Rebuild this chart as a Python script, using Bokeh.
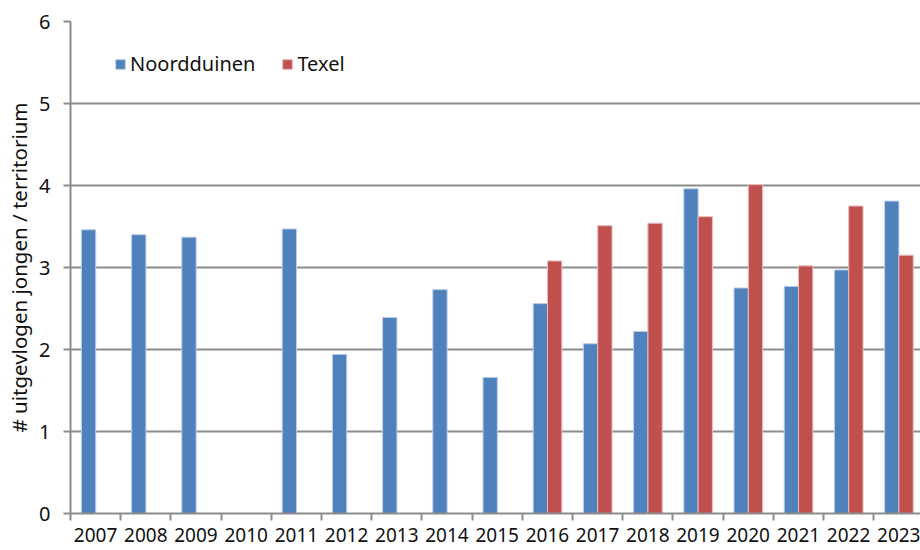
from bokeh.plotting import figure
from bokeh.models import FixedTicker, Legend, LegendItem, ColumnDataSource, Range1d
from bokeh.embed import file_html
from bokeh.resources import INLINE

years = ["2007", "2008", "2009", "2010", "2011", "2012", "2013", "2014", "2015",
         "2016", "2017", "2018", "2019", "2020", "2021", "2022", "2023"]
noordduinen = [3.46, 3.40, 3.37, None, 3.47, 1.94, 2.39, 2.73, 1.66,
               2.56, 2.07, 2.22, 3.96, 2.75, 2.77, 2.97, 3.81]
texel = [None, None, None, None, None, None, None, None, None,
         3.08, 3.51, 3.54, 3.62, 4.01, 3.02, 3.75, 3.15]
y_ticks = [0, 1, 2, 3, 4, 5, 6]
y_label = "# uitgevlogen jongen / territorium"

BLUE = "#4F81BD"
RED = "#C0504D"
GRID = "#8c8c8c"
FONT = "Noto Sans"

centers = [i + 0.5 for i in range(len(years))]
bounds = list(range(len(years) + 1))

def series(vals, offset):
    xs, tops = [], []
    for c, v in zip(centers, vals):
        if v is not None:
            xs.append(c + offset)
            tops.append(v)
    return ColumnDataSource(dict(x=xs, top=tops))

TOP, LEFT = 21, 70
FW, FH = 850, 492
p = figure(frame_width=FW, frame_height=FH, output_backend="svg",
           toolbar_location=None, x_range=Range1d(0, FW / 50.2), y_range=Range1d(0, 6),
           min_border_left=LEFT, min_border_right=0, min_border_top=TOP,
           min_border_bottom=36, background_fill_color="white",
           border_fill_color="white", outline_line_color=None)

w = 0.285
r1 = p.vbar(x="x", top="top", width=w, bottom=0, source=series(noordduinen, -0.14),
            fill_color=BLUE, line_color="#bccde6", line_width=1)
r2 = p.vbar(x="x", top="top", width=w, bottom=0, source=series(texel, 0.145),
            fill_color=RED, line_color="#e8bcbb", line_width=1)

# y axis
p.yaxis.ticker = FixedTicker(ticks=y_ticks)
p.yaxis.axis_line_color = GRID
p.yaxis.axis_line_width = 2
p.yaxis.major_tick_line_color = GRID
p.yaxis.major_tick_line_width = 2
p.yaxis.major_tick_out = 7
p.yaxis.major_tick_in = 0
p.yaxis.minor_tick_line_color = None
p.yaxis.major_label_standoff = 13
p.yaxis.major_label_text_font = FONT
p.yaxis.major_label_text_font_size = "20px"
p.yaxis.major_label_text_color = "#111111"
p.yaxis.axis_label = y_label
p.yaxis.axis_label_text_font = FONT
p.yaxis.axis_label_text_font_size = "20.5px"
p.yaxis.axis_label_text_font_style = "normal"
p.yaxis.axis_label_text_color = "#111111"
p.yaxis.axis_label_standoff = 3

# x axis
p.xaxis.ticker = FixedTicker(ticks=centers, minor_ticks=bounds)
p.xaxis.major_label_overrides = {c: y for c, y in zip(centers, years)}
p.xaxis.axis_line_color = GRID
p.xaxis.axis_line_width = 2
p.xaxis.major_tick_line_color = None
p.xaxis.major_tick_out = 0
p.xaxis.major_tick_in = 0
p.xaxis.minor_tick_line_color = GRID
p.xaxis.minor_tick_line_width = 2
p.xaxis.minor_tick_out = 7
p.xaxis.minor_tick_in = 0
p.xaxis.major_label_standoff = 7
p.xaxis.major_label_text_font = FONT
p.xaxis.major_label_text_font_size = "19px"
p.xaxis.major_label_text_color = "#111111"

p.xgrid.grid_line_color = None
p.ygrid.ticker = FixedTicker(ticks=y_ticks[1:])
p.ygrid.grid_line_color = GRID
p.ygrid.grid_line_width = 2

legend = Legend(items=[LegendItem(label="Noordduinen", renderers=[r1]),
                       LegendItem(label="Texel", renderers=[r2])],
                orientation="horizontal", location=(44, FH - 30 - 26),
                padding=0, margin=0, spacing=26, label_standoff=4,
                glyph_width=12, glyph_height=12,
                border_line_color=None, background_fill_alpha=0,
                label_text_font=FONT, label_text_font_size="20px",
                label_text_color="#111111")
p.add_layout(legend, "center")

open("out.html", "w").write(file_html(p, INLINE))
